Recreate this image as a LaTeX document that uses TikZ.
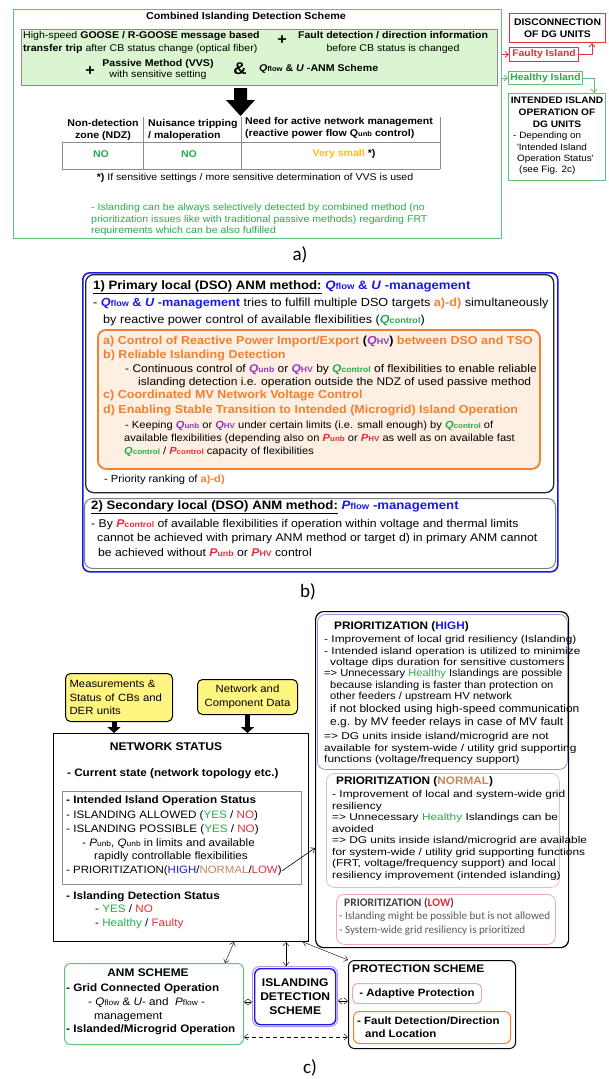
\documentclass[tikz,border=0pt]{standalone}
\usepackage{fontspec}
\setmainfont{Liberation Sans}[FakeStretch=1.08]
\newfontfamily\widef{Liberation Sans}[FakeStretch=1.2]
\newfontfamily\calib{Carlito}
\usetikzlibrary{arrows.meta,calc}
\definecolor{frgreen}{RGB}{90,195,120}
\definecolor{txgreen}{RGB}{40,170,75}
\definecolor{fillgreen}{RGB}{218,245,208}
\definecolor{ired}{RGB}{232,45,55}
\definecolor{borange}{RGB}{242,128,48}
\definecolor{forange}{RGB}{253,239,226}
\definecolor{ablue}{RGB}{25,25,235}
\definecolor{qpurple}{RGB}{150,55,185}
\definecolor{vyellow}{RGB}{255,192,0}
\definecolor{nbrown}{RGB}{195,135,95}
\definecolor{nbox}{RGB}{222,195,175}
\definecolor{lbox}{RGB}{242,165,175}
\definecolor{hbox}{RGB}{145,145,225}
\definecolor{dsyellow}{RGB}{255,245,128}
\newcommand\fsz[2]{\fontsize{#1}{#2}\selectfont}
\newcommand\vsub[2]{\textit{#1}\scalebox{0.72}{#2}}
\newcommand\vcol[3]{\textcolor{#1}{\textbf{\vsub{#2}{#3}}}}
\begin{document}
\begin{tikzpicture}[x=1pt,y=-1pt,>={Straight Barb[length=3.5pt,width=6pt]},line join=round,
  txt/.style={inner sep=0pt,anchor=west,align=left},
  frame/.style={anchor=north west,inner sep=0pt},
  fat/.style={line width=5pt,-{Triangle[length=6pt,width=13pt]}}]
\useasboundingbox (0,0) rectangle (609,1079);
%======================== a)
\node[frame,draw=frgreen,line width=1.2pt,minimum width=488pt,minimum height=229pt] (cids) at (13,9) {};
\node[font=\bfseries\fsz{10}{12}] (cidt) at (246,17) {Combined Islanding Detection Scheme};
\node[frame,draw=black!45,fill=fillgreen,minimum width=476pt,minimum height=56pt] (meth) at (21,29) {};
\node[txt,font=\fsz{9.8}{13}] (goose) at (23,42.5) {High-speed \textbf{GOOSE / R-GOOSE message based}\\\textbf{transfer trip} after CB status change (optical fiber)};
\node[font=\bfseries\fsz{15}{15}] (plusa) at (282,40) {+};
\node[align=center,font=\fsz{9.8}{13}] (fdir) at (393,42.5) {\textbf{Fault detection / direction information}\\before CB status is changed};
\node[font=\bfseries\fsz{15}{15}] (plusb) at (90,71) {+};
\node[align=center,font=\fsz{9.8}{11}] (vvs) at (158,69.5) {\textbf{Passive Method (VVS)}\\with sensitive setting};
\node[font=\bfseries\fsz{17}{17}] (amp) at (240,69) {\&};
\node[txt,font=\bfseries\fsz{9.8}{12}] (qanm) at (259,69) {\vsub{Q}{flow} \& \textit{U} -ANM Scheme};
\fill (234,88) -- (247,88) -- (247,100) -- (255,100) -- (240.5,116) -- (226,100) -- (234,100) -- cycle;
% table
\draw[black!45] (62,142) -- (440,142) (62,169) -- (440,169) (62,142) -- (62,169)
  (143,117) -- (143,169) (241,117) -- (241,169) (440,117) -- (440,169);
\node[align=center,font=\bfseries\fsz{9.8}{11.5}] (ndz) at (103,130) {Non-detection\\zone (NDZ)};
\node[txt,font=\bfseries\fsz{9.8}{11.5}] (nuis) at (148,130) {Nuisance tripping\\/ maloperation};
\node[txt,font=\bfseries\fsz{9.8}{11.5}] (need) at (245,128) {Need for active network management\\(reactive power flow Q\scalebox{0.72}{unb} control)};
\node[font=\bfseries\fsz{9.8}{12},text=txgreen] (noa) at (101,154) {NO};
\node[font=\bfseries\fsz{9.8}{12},text=txgreen] (nob) at (189,154) {NO};
\node[font=\bfseries\fsz{9.8}{12}] (vsmall) at (344,154) {\textcolor{vyellow}{Very small} *)};
\node[font=\fsz{9.8}{12}] (fnote) at (255,178) {\textbf{*)} If sensitive settings / more sensitive determination of VVS is used};
\node[txt,font=\fsz{9.8}{11.5},text=txgreen] (combi) at (91,219.5) {- Islanding can be always selectively detected by combined method (no\\prioritization issues like with traditional passive methods) regarding FRT\\requirements which can be also fulfilled};
\node[font=\calib\fsz{19}{19}] (lba) at (300,255) {a)};
% outcome boxes
\node[frame,draw=ired,line width=1pt,minimum width=96pt,minimum height=29pt,align=center,font=\bfseries\fsz{9.6}{11.5}] (disc) at (509,13) {DISCONNECTION\\OF DG UNITS};
\node[frame,draw=ired,line width=1pt,minimum width=69pt,minimum height=14pt,text=ired,font=\bfseries\fsz{9.6}{11}] (fault) at (509,47) {Faulty Island};
\node[frame,draw=frgreen,line width=1pt,minimum width=74pt,minimum height=13pt,text=txgreen,font=\bfseries\fsz{9.6}{11}] (healthy) at (508,71) {Healthy Island};
\node[frame,draw=frgreen,line width=1pt,minimum width=97pt,minimum height=87pt] (intend) at (508,93) {};
\node[align=center,font=\bfseries\fsz{9.4}{12}] (intt) at (557,112) {INTENDED ISLAND\\OPERATION OF\\DG UNITS};
\node[txt,font=\fsz{9.2}{11.3}] (dep) at (513,153.5) {- Depending on\\\hspace*{4pt}\textquotesingle Intended Island\\\hspace*{4pt}Operation Status\textquotesingle\\\hspace*{6pt}(see Fig. 2c)};
\coordinate (dtip) at (592,0);
\coordinate (itip) at (594,0);
\draw[ired,line width=0.8pt,->] (cids.east |- fault.west) -- (fault.west);
\draw[ired,line width=0.8pt,->] (fault.east) -| (disc.south -| dtip);
\draw[frgreen,line width=0.8pt,->] (cids.east |- healthy.west) -- (healthy.west);
\draw[frgreen,line width=0.8pt,->] (healthy.east) -| (intend.north -| itip);
%======================== b)
\node[frame,draw=ablue,line width=1.6pt,rounded corners=7pt,minimum width=475pt,minimum height=299pt] (anmb) at (82,272) {};
\node[frame,draw=black!85,line width=1.3pt,rounded corners=8pt,minimum width=468pt,minimum height=218pt] (prim) at (85,274) {};
\node[txt,font=\bfseries\fsz{12.2}{14}] (primt) at (93,287) {\underline{1) Primary local (DSO) ANM method:} \textcolor{ablue}{\vsub{Q}{flow} \& \textit{U} -management}};
\node[txt,font=\fsz{11.7}{17.7}] (primx) at (93,312) {- \textbf{\textcolor{ablue}{\vsub{Q}{flow} \& \textit{U} -management}} tries to fulfill multiple DSO targets \textbf{\textcolor{borange}{a)-d)}} simultaneously\\\hspace*{10pt}by reactive power control of available flexibilities (\vcol{txgreen}{Q}{control})};
\node[frame,draw=borange,fill=forange,line width=1.8pt,rounded corners=8pt,minimum width=442pt,minimum height=139pt] (targ) at (97,329) {};
\node[txt,font=\bfseries\fsz{11.6}{13},text=borange] (ta) at (103,341) {a) Control of Reactive Power Import/Export \textcolor{black}{(}\textcolor{qpurple}{\vsub{Q}{HV}}\textcolor{black}{)} between DSO and TSO};
\node[txt,font=\bfseries\fsz{11.6}{13},text=borange] (tb) at (103,356) {b) Reliable Islanding Detection};
\node[txt,font=\fsz{11.1}{13}] (tbx) at (125,376.5) {- Continuous control of \vcol{qpurple}{Q}{unb} or \vcol{qpurple}{Q}{HV} by \vcol{txgreen}{Q}{control} of flexibilities to enable reliable\\\hspace*{13pt}islanding detection i.e. operation outside the NDZ of used passive method};
\node[txt,font=\bfseries\fsz{11.6}{13},text=borange] (tc) at (103,396) {c) Coordinated MV Network Voltage Control};
\node[txt,font=\bfseries\fsz{11.6}{13},text=borange] (td) at (103,411) {d) Enabling Stable Transition to Intended (Microgrid) Island Operation};
\node[txt,font=\fsz{10.3}{13}] (tdx) at (124,439) {\hspace*{1pt}- Keeping \vcol{qpurple}{Q}{unb} or \vcol{qpurple}{Q}{HV} under certain limits (i.e. small enough) by \vcol{txgreen}{Q}{control} of\\available flexibilities (depending also on \vcol{ired}{P}{unb} or \vcol{ired}{P}{HV} as well as on available fast\\\vcol{txgreen}{Q}{control} / \vcol{ired}{P}{control} capacity of flexibilities};
\node[txt,font=\fsz{10.3}{13}] (rank) at (104,480) {- Priority ranking of \textbf{\textcolor{borange}{a)-d)}}};
\node[frame,draw=black!50,line width=1pt,rounded corners=8pt,minimum width=471pt,minimum height=70pt] (secb) at (84,498) {};
\node[txt,font=\bfseries\fsz{12.2}{14}] (sect) at (91,507) {\underline{2) Secondary local (DSO) ANM method:} \textcolor{ablue}{\vsub{P}{flow} -management}};
\node[txt,font=\fsz{11.3}{14.5}] (secx) at (91,537.5) {- By \vcol{ired}{P}{control} of available flexibilities if operation within voltage and thermal limits\\\hspace*{6pt}cannot be achieved with primary ANM method or target d) in primary ANM cannot\\\hspace*{7pt}be achieved without \vcol{ired}{P}{unb} or \vcol{ired}{P}{HV} control};
\node[font=\calib\fsz{19}{19}] (lbb) at (308,592) {b)};
%======================== c)
\node[frame,draw=black,line width=1pt,rounded corners=5pt,fill=dsyellow,minimum width=107pt,minimum height=48pt,text width=99pt,align=left,inner xsep=4pt,font=\fsz{10.5}{13.5}] (meas) at (65,673) {Measurements \&\\Status of CBs and\\DER units};
\node[frame,draw=black,line width=1pt,rounded corners=5pt,fill=dsyellow,minimum width=100pt,minimum height=35pt,align=center,font=\fsz{10.5}{13.5}] (netd) at (197,679) {Network and\\Component Data};
\node[frame,draw=black,line width=1pt,minimum width=255pt,minimum height=208pt] (ns) at (53,733) {};
\draw[fat] ($(meas.south)+(-5,0)$) -- ($(ns.north -| meas.south)+(-5,0)$);
\draw[fat] (netd.south) -- (ns.north -| netd.south);
\node[font=\bfseries\fsz{11.2}{13}] (nst) at (166,747) {NETWORK STATUS};
\node[txt,font=\bfseries\fsz{10.8}{13}] (curr) at (67,774) {- Current state (network topology etc.)};
\node[frame,draw=black!45,minimum width=239pt,minimum height=93pt] (iios) at (62,791) {};
\node[txt,font=\bfseries\fsz{10.8}{13}] (iiost) at (66,801) {- Intended Island Operation Status};
\node[txt,font=\fsz{10.8}{13.7}] (iiosx) at (66,836.5) {- ISLANDING ALLOWED (\textcolor{txgreen}{YES} / \textcolor{ired}{NO})\\- ISLANDING POSSIBLE (\textcolor{txgreen}{YES} / \textcolor{ired}{NO})\\\hspace*{16pt}- \vsub{P}{unb}, \vsub{Q}{unb} in limits and available\\\hspace*{28pt}rapidly controllable flexibilities};
\node[txt,font=\fsz{10.6}{13}] (priol) at (66,871) {- PRIORITIZATION(\textcolor{ablue}{HIGH}/\textcolor{nbrown}{NORMAL}/\textcolor{ired}{LOW})};
\node[txt,font=\bfseries\fsz{10.8}{13}] (idst) at (66,897) {- Islanding Detection Status};
\node[txt,font=\fsz{10.8}{13.7}] (idsx) at (95,917) {- \textcolor{txgreen}{YES} / \textcolor{ired}{NO}\\- \textcolor{txgreen}{Healthy} / \textcolor{ired}{Faulty}};
% prioritization
\node[frame,draw=black,line width=1.2pt,rounded corners=8pt,minimum width=253pt,minimum height=336pt] (pbox) at (315,611) {};
\node[frame,draw=hbox,line width=0.8pt,rounded corners=8pt,minimum width=250pt,minimum height=155pt] (phigh) at (317,614) {};
\node[txt,font=\bfseries\fsz{10.9}{13}] (phight) at (334,627) {PRIORITIZATION (\textcolor{ablue}{HIGH})};
\node[txt,font=\widef\fsz{9.9}{11.4}] (phigha) at (324,651.5) {- Improvement of local grid resiliency (Islanding)\\- Intended island operation is utilized to minimize\\\hspace*{6pt}voltage dips duration for sensitive customers};
\node[txt,font=\fsz{10.3}{11.5}] (phighd) at (324,685.5) {=> Unnecessary \textcolor{txgreen}{Healthy} Islandings are possible\\\hspace*{6pt}because islanding is faster than protection on\\\hspace*{6pt}other feeders / upstream HV network};
\node[txt,font=\fsz{11.1}{12.5}] (phighb) at (330,716) {if not blocked using high-speed communication\\e.g. by MV feeder relays in case of MV fault};
\node[txt,font=\widef\fsz{9.9}{11.5}] (phighc) at (324,748.5) {=> DG units inside island/microgrid are not\\available for system-wide / utility grid supporting\\functions (voltage/frequency support)};
\node[frame,draw=nbox,line width=0.8pt,rounded corners=8pt,minimum width=233pt,minimum height=114pt] (pnorm) at (326,773) {};
\node[txt,font=\bfseries\fsz{10.9}{13}] (pnormt) at (336,782) {PRIORITIZATION (\textcolor{nbrown}{NORMAL})};
\node[txt,font=\widef\fsz{9.9}{11.57}] (pnormx) at (332,835.5) {- Improvement of local and system-wide grid\\resiliency\\=> Unnecessary \textcolor{txgreen}{Healthy} Islandings can be\\avoided\\=> DG units inside island/microgrid are available\\for system-wide / utility grid supporting functions\\(FRT, voltage/frequency support) and local\\resiliency improvement (intended islanding)};
\node[frame,draw=lbox,line width=0.8pt,rounded corners=8pt,minimum width=219pt,minimum height=50pt] (plow) at (336,894) {};
\node[txt,font=\calib\bfseries\fsz{11.5}{13},text=black!75] (plowt) at (344,903) {PRIORITIZATION (\textcolor{ired}{LOW})};
\node[txt,font=\calib\fsz{11.1}{14},text=black!65] (plowx) at (339,924) {- Islanding might be possible but is not allowed\\- System-wide grid resiliency is prioritized};
\coordinate (pin) at (0,848);
\draw[->,line width=0.6pt] (priol.east) -- (pbox.west |- pin);
% schemes
\node[frame,draw=frgreen,line width=1pt,rounded corners=6pt,minimum width=179pt,minimum height=81pt] (anm) at (64,963) {};
\node[font=\bfseries\fsz{11}{13}] (anmt) at (148,973) {ANM SCHEME};
\node[txt,font=\bfseries\fsz{10.8}{13}] (gco) at (66,989) {- Grid Connected Operation};
\node[txt,font=\fsz{10.8}{14}] (gcox) at (88,1010) {- \vsub{Q}{flow} \& \textit{U}- and\ \ \vsub{P}{flow} -\\\hspace*{6pt}management};
\node[txt,font=\bfseries\fsz{10.8}{13}] (imo) at (66,1030) {- Islanded/Microgrid Operation};
\node[frame,draw=qpurple!55,line width=1pt,rounded corners=7pt,minimum width=85pt,minimum height=60pt] (idso) at (252,966) {};
\node[frame,draw=ablue,line width=1.4pt,rounded corners=6pt,minimum width=81pt,minimum height=56pt,align=center,font=\bfseries\fsz{11.2}{14}] (ids) at (254,968) {ISLANDING\\DETECTION\\SCHEME};
\node[frame,draw=black,line width=1pt,rounded corners=6pt,minimum width=167pt,minimum height=88pt] (prot) at (348,960) {};
\node[txt,font=\bfseries\fsz{11}{13}] (prott) at (352,969) {PROTECTION SCHEME};
\node[frame,draw=lbox,line width=1pt,rounded corners=5pt,minimum width=129pt,minimum height=20pt,font=\bfseries\fsz{10.6}{13}] (adap) at (352,983) {- Adaptive Protection};
\node[frame,draw=borange,line width=1pt,rounded corners=6pt,minimum width=157pt,minimum height=32pt] (fdl) at (353,1011) {};
\node[txt,font=\bfseries\fsz{10.6}{13.5}] (fdlt) at (357,1027) {- Fault Detection/Direction\\\hspace*{8pt}and Location};
\coordinate (ya) at (0,1002);
\coordinate (yb) at (0,1001);
\coordinate (yc) at (0,1037);
\coordinate (xa) at (234,0);
\coordinate (xb) at (225,0);
\coordinate (xc) at (286,0);
\coordinate (xd) at (303,0);
\draw[<->] (anm.east |- ya) -- (idso.west |- ya);
\draw[<->] (idso.east |- yb) -- (prot.west |- yb);
\draw[<->,dash pattern=on 4pt off 3pt] (anm.east |- yc) -- (prot.west |- yc);
\draw[<->] (ns.south -| xa) -- (anm.north -| xb);
\draw[<->] (ns.south -| xc) -- (idso.north -| xc);
\draw[<->] (ns.south -| xd) -- (prot.north west);
\node[font=\calib\fsz{19}{19}] (lbc) at (310,1068) {c)};
%========================
\end{tikzpicture}
\end{document}
